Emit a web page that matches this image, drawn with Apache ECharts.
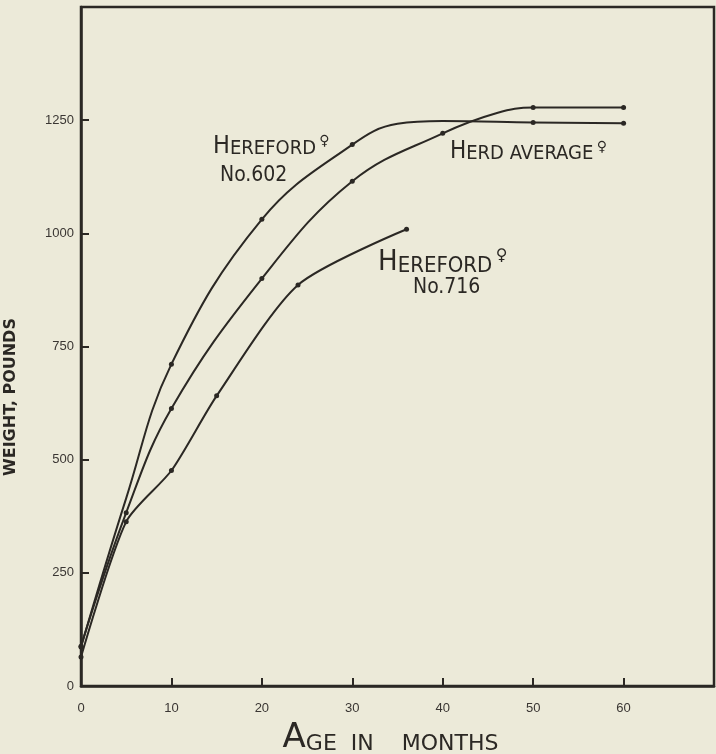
<!DOCTYPE html>
<html>
<head>
<meta charset="utf-8">
<script src="https://cdn.jsdelivr.net/npm/echarts@6/dist/echarts.min.js"></script>
<style>
  html, body { margin: 0; padding: 0; background: #ecead9; }
  #chart { width: 716px; height: 754px; }
</style>
</head>
<body>
<div id="chart"></div>
<script>
// ---- data ----
const xTicks = [0, 10, 20, 30, 40, 50, 60];
const yTicks = [0, 250, 500, 750, 1000, 1250];

// [age in months, weight in pounds]
const hereford602 = [[0, 86], [5, 415], [10, 711], [20, 1031], [30, 1196], [35, 1242], [40, 1248], [50, 1245], [60, 1243]];
const hereford602Marked = [0, 10, 20, 30, 50, 60];

const herdAverage = [[0, 88], [5, 383], [10, 613], [20, 900], [30, 1115], [40, 1221], [46, 1266], [50, 1278], [60, 1278]];
const herdAverageMarked = [0, 5, 10, 20, 30, 40, 50, 60];

const hereford716 = [[0, 64], [5, 363], [10, 476], [15, 641], [24, 886], [36, 1009]];
const hereford716Marked = [0, 5, 10, 15, 24, 36];

const ink = '#2b2824';

function build(points, marked) {
  return points.map(p => marked.indexOf(p[0]) >= 0
    ? { value: p }
    : { value: p, symbol: 'none' });
}

function lineSeries(name, points, marked, smooth) {
  return {
    name: name,
    type: 'line',
    data: build(points, marked),
    smooth: smooth,
    symbol: 'circle',
    symbolSize: 5,
    itemStyle: { color: ink },
    lineStyle: { color: ink, width: 2 },
    silent: true,
    z: 3
  };
}

const chart = echarts.init(document.getElementById('chart'), null, { renderer: 'canvas' });

const labelFont = 'Liberation Sans';
const handFont = '"DejaVu Sans Condensed", "Liberation Sans Narrow", "DejaVu Sans", sans-serif';

chart.setOption({
  backgroundColor: '#ecead9',
  animation: false,
  grid: {
    left: 81, right: 2, top: 7, bottom: 68,
    containLabel: false,
    outerBoundsMode: 'none',
    show: true, borderColor: ink, borderWidth: 2.5, backgroundColor: 'transparent'
  },
  xAxis: {
    type: 'value',
    min: 0, max: 70, interval: 10,
    name: '{a|A}{s|GE  IN    MONTHS  }',
    nameLocation: 'middle',
    nameGap: 35,
    nameTextStyle: {
      rich: {
        a: { fontFamily: 'DejaVu Sans', fontSize: 34, color: ink, verticalAlign: 'bottom' },
        s: { fontFamily: 'DejaVu Sans', fontSize: 22, color: ink, verticalAlign: 'bottom' }
      }
    },
    axisLine: { lineStyle: { color: ink, width: 2.5 } },
    axisTick: { inside: true, length: 8, lineStyle: { color: ink, width: 2 } },
    splitLine: { show: false },
    axisLabel: {
      margin: 16,
      fontFamily: labelFont, fontSize: 13, color: '#3a3633',
      formatter: v => xTicks.indexOf(v) >= 0 ? String(v) : ''
    }
  },
  yAxis: {
    type: 'value',
    min: 0, max: 1500, interval: 250,
    axisLine: { show: true, lineStyle: { color: ink, width: 2.5 } },
    axisTick: { inside: true, length: 8, lineStyle: { color: ink, width: 2 } },
    splitLine: { show: false },
    axisLabel: {
      margin: 7,
      fontFamily: labelFont, fontSize: 13, color: '#3a3633',
      formatter: v => yTicks.indexOf(v) >= 0 ? String(v) : ''
    }
  },
  series: [
    lineSeries('Hereford ♀ No.602', hereford602, hereford602Marked, 0.4),
    lineSeries('Herd average ♀', herdAverage, herdAverageMarked, 0.4),
    lineSeries('Hereford ♀ No.716', hereford716, hereford716Marked, 0.25)
  ],
  graphic: [
    {
      type: 'text', x: 11, y: 397, rotation: Math.PI / 2, z: 10,
      style: {
        text: 'WEIGHT, POUNDS',
        fontFamily: 'DejaVu Sans', fontWeight: 'bold', fontSize: 16, fill: ink,
        align: 'center', verticalAlign: 'middle'
      }
    },
    {
      type: 'text', left: 213, top: 134, z: 10,
      style: {
        text: '{h|H}{s|EREFORD} {f|♀}',
        rich: {
          h: { fontFamily: handFont, fontSize: 25, fill: ink, verticalAlign: 'bottom' },
          s: { fontFamily: handFont, fontSize: 20, fill: ink, verticalAlign: 'bottom' },
          f: { fontFamily: 'DejaVu Sans', fontSize: 14, fill: ink, verticalAlign: 'top' }
        }
      }
    },
    {
      type: 'text', left: 220, top: 165, z: 10,
      style: { text: 'No.602', fontFamily: handFont, fontSize: 21, fill: ink }
    },
    {
      type: 'text', left: 450, top: 140, z: 10,
      style: {
        text: '{h|H}{s|ERD AVERAGE} {f|♀}',
        rich: {
          h: { fontFamily: handFont, fontSize: 24, fill: ink, verticalAlign: 'bottom' },
          s: { fontFamily: handFont, fontSize: 20, fill: ink, verticalAlign: 'bottom' },
          f: { fontFamily: 'DejaVu Sans', fontSize: 14, fill: ink, verticalAlign: 'top' }
        }
      }
    },
    {
      type: 'text', left: 378, top: 248, z: 10,
      style: {
        text: '{h|H}{s|EREFORD} {f|♀}',
        rich: {
          h: { fontFamily: handFont, fontSize: 29, fill: ink, verticalAlign: 'bottom' },
          s: { fontFamily: handFont, fontSize: 22, fill: ink, verticalAlign: 'bottom' },
          f: { fontFamily: 'DejaVu Sans', fontSize: 16, fill: ink, verticalAlign: 'top' }
        }
      }
    },
    {
      type: 'text', left: 413, top: 277, z: 10,
      style: { text: 'No.716', fontFamily: handFont, fontSize: 21, fill: ink }
    }
  ]
});
</script>
</body>
</html>
